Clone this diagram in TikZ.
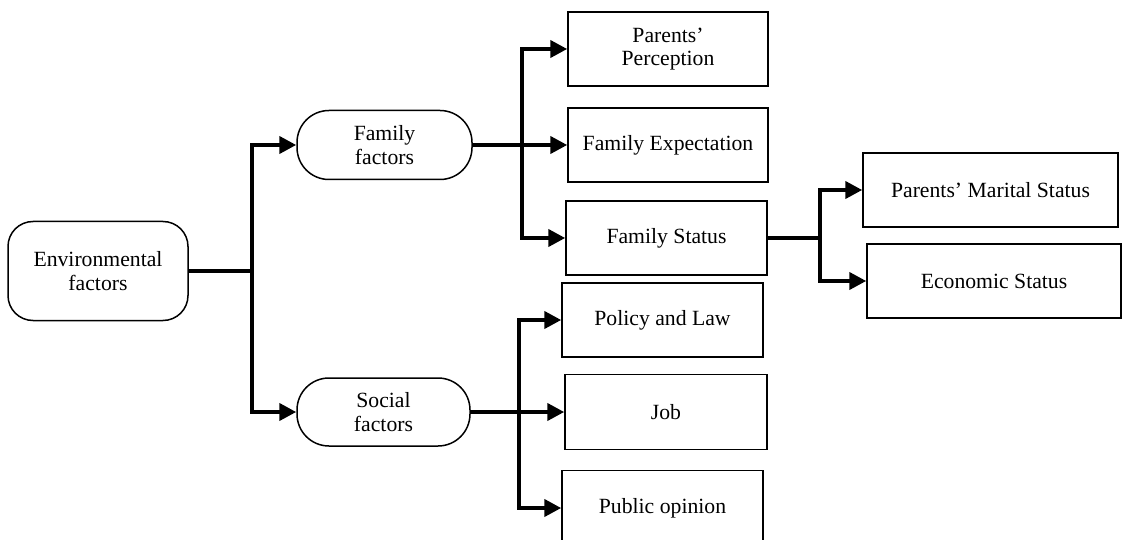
\documentclass[tikz,border=0pt]{standalone}
\usepackage{fontspec}
\setmainfont{Liberation Serif}
\usetikzlibrary{arrows.meta}
\begin{document}
\begin{tikzpicture}[x=1pt,y=-1pt,
  box/.style={draw, line width=1.5pt, inner sep=0pt, align=center,
    font=\fontsize{21.7}{23.5}\selectfont},
  rbox/.style={box, rounded corners=#1},
  conn/.style={line width=4pt},
  arr/.style={line width=4pt, -{Triangle[length=17pt,width=17pt]}}
]
\useasboundingbox (0,0) rectangle (1122,540);
% nodes
\node[rbox=25pt, minimum width=180pt, minimum height=99pt] (env) at (98,271) {Environmental\\factors};
\node[rbox=32pt, minimum width=175pt, minimum height=69pt] (fam) at (384.5,145) {Family\\factors};
\node[rbox=32pt, minimum width=173pt, minimum height=68pt] (soc) at (383.5,412) {Social\\factors};
\node[box, minimum width=200pt, minimum height=74pt] (pp) at (668,49) {Parents’\\Perception};
\node[box, minimum width=200pt, minimum height=74pt] (fe) at (668,145) {Family Expectation};
\node[box, minimum width=201pt, minimum height=74pt] (fs) at (666.5,238) {Family Status};
\node[box, minimum width=255pt, minimum height=74pt] (pms) at (990.5,190) {Parents’ Marital Status};
\node[box, minimum width=254pt, minimum height=74pt] (eco) at (994,281) {Economic Status};
\node[box, minimum width=201pt, minimum height=74pt] (pl) at (662.5,320) {Policy and Law};
\node[box, minimum width=202pt, minimum height=75pt] (job) at (666,412) {Job};
\node[box, minimum width=201pt, minimum height=75pt] (po) at (662.5,508) {Public opinion};
% junctions
\coordinate (j1) at (252,271);
\coordinate (j2) at (522,145);
\coordinate (j3) at (820,238);
\coordinate (j4) at (519,412);
% connectors
\draw[conn] (env.east) -- (j1);
\draw[arr] (j1) |- (fam.west);
\draw[arr] (j1) |- (soc.west);
\draw[conn] (fam.east) -- (j2);
\draw[arr] (j2) |- (pp.west);
\draw[arr] (j2) -- (fe.west);
\draw[arr] (j2) |- (fs.west);
\draw[conn] (fs.east) -- (j3);
\draw[arr] (j3) |- (pms.west);
\draw[arr] (j3) |- (eco.west);
\draw[conn] (soc.east) -- (j4);
\draw[arr] (j4) |- (pl.west);
\draw[arr] (j4) -- (job.west);
\draw[arr] (j4) |- (po.west);
\end{tikzpicture}
\end{document}
